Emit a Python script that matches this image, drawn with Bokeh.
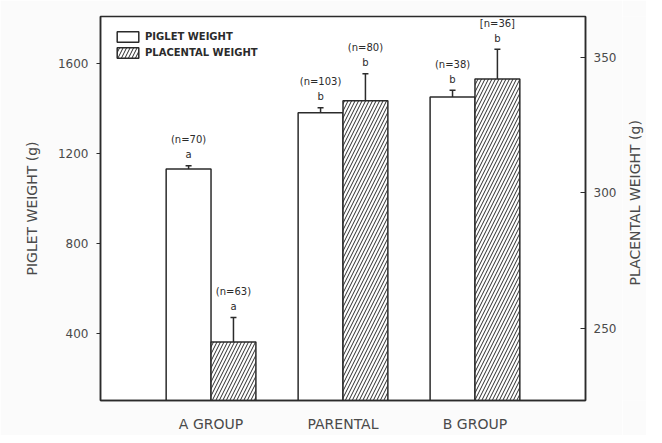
import math
from bokeh.plotting import figure
from bokeh.layouts import row
from bokeh.models import (ColumnDataSource, FactorRange, Range1d, LinearAxis, Whisker,
                          TeeHead, LabelSet, Legend, LegendItem, FixedTicker)
from bokeh.core.properties import value
from bokeh.transform import dodge
from bokeh.embed import file_html
from bokeh.resources import INLINE

groups = ["A GROUP", "PARENTAL", "B GROUP"]
piglet_mean = [1130, 1380, 1450]
piglet_se = [15, 22, 30]
piglet_n = ["(n=70)", "(n=103)", "(n=38)"]
piglet_sig = ["a", "b", "b"]
placental_mean = [245, 334, 342]
placental_se = [9, 10, 11]
placental_n = ["(n=63)", "(n=80)", "[n=36]"]
placental_sig = ["a", "b", "b"]
left_ticks = [400, 800, 1200, 1600]
right_ticks = [250, 300, 350]
right_title = ["PLACENTAL WEIGHT (g)"]

INK = "#2b2b2b"
TXT = "#4a4a4a"
FONT = "DejaVu Sans"
BG = "#fbfbfb"
H = 435

pig = ColumnDataSource(dict(g=groups, top=piglet_mean,
                            up=[m + s for m, s in zip(piglet_mean, piglet_se)],
                            n=piglet_n, sig=piglet_sig))
pla = ColumnDataSource(dict(g=groups, top=placental_mean,
                            up=[m + s for m, s in zip(placental_mean, placental_se)],
                            n=placental_n, sig=placental_sig))

p = figure(width=622, height=H, x_range=FactorRange(*groups, range_padding=0.225),
           y_range=Range1d(103, 1807), output_backend="svg", toolbar_location=None,
           min_border_left=100, min_border_right=37, min_border_top=16, min_border_bottom=35)
p.extra_y_ranges = {"right": Range1d(223.4, 365.1)}
p.background_fill_color = "#ffffff"
p.border_fill_color = BG
p.outline_line_color = INK
p.outline_line_width = 1.5
p.grid.visible = False

W = 0.34
r1 = p.vbar(x=dodge("g", -0.17, range=p.x_range), top="top", bottom=0, width=W, source=pig,
            fill_color="white", line_color=INK, line_width=1.5)
r2 = p.vbar(x=dodge("g", 0.17, range=p.x_range), top="top", bottom=0, width=W, source=pla,
            y_range_name="right", fill_color="white", line_color=INK, line_width=1.5,
            hatch_pattern="/", hatch_color=INK, hatch_scale=7, hatch_weight=1)

p.add_layout(Whisker(base=dodge("g", -0.17, range=p.x_range), upper="up", lower="top", source=pig,
                     line_color=INK, line_width=1.5,
                     upper_head=TeeHead(size=6, line_color=INK, line_width=1.5), lower_head=None))
p.add_layout(Whisker(base=dodge("g", 0.17, range=p.x_range), upper="up", lower="top", source=pla,
                     y_range_name="right", line_color=INK, line_width=1.5,
                     upper_head=TeeHead(size=6, line_color=INK, line_width=1.5), lower_head=None))

for src, off, rn in ((pig, -0.17, "default"), (pla, 0.17, "right")):
    p.add_layout(LabelSet(x=dodge("g", off, range=p.x_range), y="up", text="sig", source=src,
                          y_range_name=rn, y_offset=11, text_align="center", text_baseline="middle",
                          text_font=value(FONT), text_font_size="10px", text_color=INK))
    p.add_layout(LabelSet(x=dodge("g", off, range=p.x_range), y="up", text="n", source=src,
                          y_range_name=rn, y_offset=26, text_align="center", text_baseline="middle",
                          text_font=value(FONT), text_font_size="10px", text_color=INK))

# axes
p.xaxis.axis_line_color = INK
p.xaxis.axis_line_width = 1.5
p.xaxis.major_tick_line_color = None
p.xaxis.major_label_standoff = 9
p.xaxis.major_label_text_font = FONT
p.xaxis.major_label_text_font_size = "14px"
p.xaxis.major_label_text_color = TXT

ya = p.yaxis[0]
ya.ticker = FixedTicker(ticks=left_ticks)
ya.axis_label = "PIGLET WEIGHT (g)"
ya.axis_line_color = INK
ya.axis_line_width = 1.5
ya.major_tick_out = 4
ya.major_tick_in = 0
ya.major_tick_line_color = INK
ya.minor_tick_line_color = None
ya.major_label_standoff = 8
ya.major_label_text_font = FONT
ya.major_label_text_font_size = "12px"
ya.major_label_text_color = TXT
ya.axis_label_text_font = FONT
ya.axis_label_text_font_size = "14px"
ya.axis_label_text_font_style = "normal"
ya.axis_label_text_color = TXT
ya.axis_label_standoff = 15

ra = LinearAxis(y_range_name="right", ticker=FixedTicker(ticks=right_ticks))
ra.axis_line_color = INK
ra.axis_line_width = 1.5
ra.major_tick_in = 5
ra.major_tick_out = 0
ra.major_tick_line_color = INK
ra.minor_tick_line_color = None
ra.major_label_standoff = 8
ra.major_label_text_font = FONT
ra.major_label_text_font_size = "12px"
ra.major_label_text_color = TXT
p.add_layout(ra, "right")

legend = Legend(items=[LegendItem(label="PIGLET WEIGHT", renderers=[r1]),
                       LegendItem(label="PLACENTAL WEIGHT", renderers=[r2])],
                location="top_left", margin=14, padding=2, spacing=3,
                glyph_width=27, glyph_height=13, label_height=13, label_standoff=4,
                label_text_font=FONT, label_text_font_size="10px", label_text_font_style="bold",
                label_text_color=INK, border_line_color=None, background_fill_alpha=0)
p.add_layout(legend)

# narrow strip holding the right-hand axis title, reading bottom to top
q = figure(width=24, height=H, x_range=Range1d(0, 1), y_range=Range1d(0, H),
           output_backend="svg", toolbar_location=None, min_border=0)
q.axis.visible = False
q.grid.visible = False
q.outline_line_color = None
q.background_fill_color = BG
q.border_fill_color = BG
q.text(x=[0.5], y=[H - 211], text=right_title, angle=math.pi / 2, text_align="center",
       text_baseline="middle", text_font=value(FONT), text_font_size="14px", text_color=TXT)

layout = row(p, q, spacing=0)
open("out.html", "w").write(file_html(layout, INLINE))
